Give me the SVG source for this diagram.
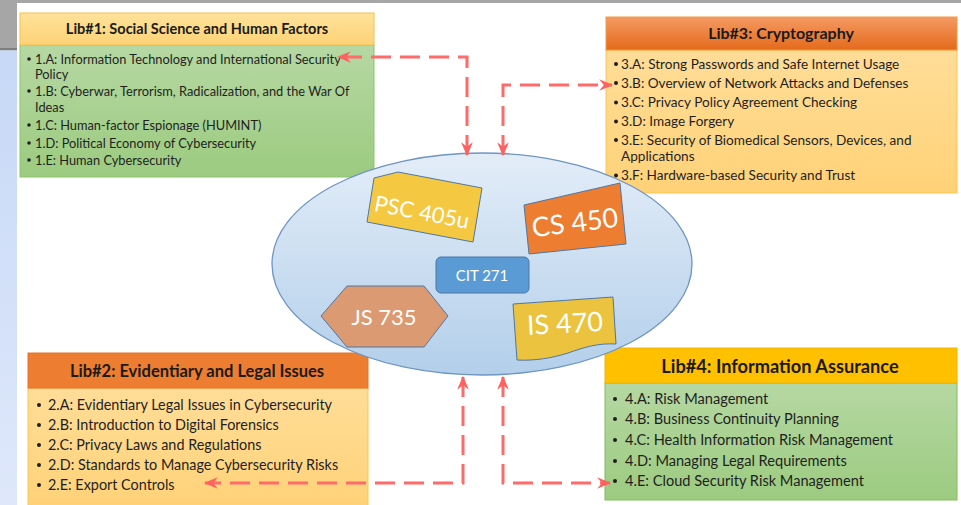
<svg xmlns="http://www.w3.org/2000/svg" width="961" height="505" viewBox="0 0 961 505">
<defs>
<style>
.t{font-family:Lato,"Liberation Sans",sans-serif;fill:#1f1f1f}
.h{font-family:Lato,"Liberation Sans",sans-serif;font-weight:bold;fill:#1a1a1a;text-anchor:middle}
.w{font-family:Lato,"Liberation Sans",sans-serif;fill:#ffffff;text-anchor:middle}
.b{fill:#1f1f1f}
.shp{stroke:#4f77a3;stroke-width:1}
.con{fill:none;stroke:#ff6b6b;stroke-width:3;stroke-dasharray:20 9;marker-start:url(#ah);marker-end:url(#ah)}
</style>
<linearGradient id="gGreen" x1="0" y1="0" x2="0" y2="1"><stop offset="0" stop-color="#b6d8a3"/><stop offset="1" stop-color="#9ccb80"/></linearGradient>
<linearGradient id="gPeach" x1="0" y1="0" x2="0" y2="1"><stop offset="0" stop-color="#ffdd98"/><stop offset="1" stop-color="#ffd278"/></linearGradient>
<linearGradient id="gHead1" x1="0" y1="0" x2="0" y2="1"><stop offset="0" stop-color="#ffe29a"/><stop offset="1" stop-color="#fdd277"/></linearGradient>
<linearGradient id="gOrange" x1="0" y1="0" x2="0" y2="1"><stop offset="0" stop-color="#f59a62"/><stop offset="1" stop-color="#e46a1c"/></linearGradient>
<linearGradient id="gEll" x1="0" y1="0" x2="0" y2="1"><stop offset="0" stop-color="#e3edf8"/><stop offset="1" stop-color="#b3cfea"/></linearGradient>
<linearGradient id="gSide" x1="0" y1="0" x2="0" y2="1"><stop offset="0" stop-color="#c6d8f6"/><stop offset="1" stop-color="#dfe8fb"/></linearGradient>
<marker id="ah" viewBox="0 0 12 10" refX="11" refY="5" markerWidth="14" markerHeight="12" markerUnits="userSpaceOnUse" orient="auto-start-reverse">
<path d="M0,0 L12,5 L0,10 L4,5 Z" fill="#ff6060"/>
</marker>
</defs>

<g id="background">
<rect x="0" y="0" width="961" height="505" fill="#ffffff"/>
<rect x="0" y="0" width="961" height="3" fill="#a6a6a6"/>
<rect x="0" y="0" width="17" height="48" fill="#a6a6a6"/>
<rect x="0" y="48" width="17" height="2.5" fill="#7f7f7f"/>
<rect x="0" y="50.5" width="17" height="454.5" fill="url(#gSide)"/>
</g>

<g id="lib1">
<rect x="20" y="45" width="354" height="132" fill="url(#gGreen)" stroke="#8cc36c" stroke-width="1"/>
<rect x="20" y="13" width="354" height="32" fill="url(#gHead1)" stroke="#f6c04e" stroke-width="1"/>
<text class="h" x="197" y="34" font-size="14.5">Lib#1: Social Science and Human Factors</text>
<g class="t" font-size="12.8">
<circle class="b" cx="29" cy="59" r="1.8"/><text x="35" y="63.5">1.A: Information Technology and International Security</text>
<text x="35" y="78.5">Policy</text>
<circle class="b" cx="29" cy="91" r="1.8"/><text x="35" y="95.5">1.B: Cyberwar, Terrorism, Radicalization, and the War Of</text>
<text x="35" y="111.5">Ideas</text>
<circle class="b" cx="29" cy="125" r="1.8"/><text x="35" y="129.5">1.C: Human-factor Espionage (HUMINT)</text>
<circle class="b" cx="29" cy="143" r="1.8"/><text x="35" y="147.5">1.D: Political Economy of Cybersecurity</text>
<circle class="b" cx="29" cy="160" r="1.8"/><text x="35" y="164.5">1.E: Human Cybersecurity</text>
</g>
</g>

<g id="lib3">
<rect x="606" y="50" width="351" height="143" fill="url(#gPeach)" stroke="#ffc54f" stroke-width="1"/>
<rect x="606" y="17" width="351" height="33" fill="url(#gOrange)" stroke="#f39a4a" stroke-width="1"/>
<text class="h" x="781" y="38.5" font-size="16">Lib#3: Cryptography</text>
<g class="t" font-size="13.6">
<circle class="b" cx="616" cy="64" r="2"/><text x="621" y="68.7">3.A: Strong Passwords and Safe Internet Usage</text>
<circle class="b" cx="616" cy="83" r="2"/><text x="621" y="87.7">3.B: Overview of Network Attacks and Defenses</text>
<circle class="b" cx="616" cy="102.5" r="2"/><text x="621" y="107.2">3.C: Privacy Policy Agreement Checking</text>
<circle class="b" cx="616" cy="121.5" r="2"/><text x="621" y="126.2">3.D: Image Forgery</text>
<circle class="b" cx="616" cy="140" r="2"/><text x="621" y="144.7">3.E: Security of Biomedical Sensors, Devices, and</text>
<text x="621" y="161.2">Applications</text>
<circle class="b" cx="616" cy="175.5" r="2"/><text x="621" y="180.2">3.F: Hardware-based Security and Trust</text>
</g>
</g>

<g id="lib2">
<rect x="28" y="388" width="340" height="120" fill="url(#gPeach)" stroke="#ffc54f" stroke-width="1"/>
<rect x="28" y="353" width="340" height="35" fill="#ed7d31" stroke="#e8732a" stroke-width="1"/>
<text class="h" x="197" y="377" font-size="16.5">Lib#2: Evidentiary and Legal Issues</text>
<g class="t" font-size="14.4">
<circle class="b" cx="39" cy="405" r="2"/><text x="48" y="410">2.A: Evidentiary Legal Issues in Cybersecurity</text>
<circle class="b" cx="39" cy="425" r="2"/><text x="48" y="430">2.B: Introduction to Digital Forensics</text>
<circle class="b" cx="39" cy="445" r="2"/><text x="48" y="450">2.C: Privacy Laws and Regulations</text>
<circle class="b" cx="39" cy="465" r="2"/><text x="48" y="470">2.D: Standards to Manage Cybersecurity Risks</text>
<circle class="b" cx="39" cy="485" r="2"/><text x="48" y="490">2.E: Export Controls</text>
</g>
</g>

<g id="lib4">
<rect x="605" y="383" width="352" height="117" fill="url(#gGreen)" stroke="#7fbe5c" stroke-width="1"/>
<rect x="605" y="348" width="352" height="35" fill="#ffc000" stroke="#f2b500" stroke-width="1"/>
<text class="h" x="780" y="372.5" font-size="18.2">Lib#4: Information Assurance</text>
<g class="t" font-size="14.6">
<circle class="b" cx="615" cy="399" r="2"/><text x="625" y="404">4.A: Risk Management</text>
<circle class="b" cx="615" cy="419" r="2"/><text x="625" y="424">4.B: Business Continuity Planning</text>
<circle class="b" cx="615" cy="440" r="2"/><text x="625" y="445">4.C: Health Information Risk Management</text>
<circle class="b" cx="615" cy="461" r="2"/><text x="625" y="466">4.D: Managing Legal Requirements</text>
<circle class="b" cx="615" cy="481" r="2"/><text x="625" y="486">4.E: Cloud Security Risk Management</text>
</g>
</g>

<g id="core">
<ellipse cx="482" cy="264" rx="210" ry="111" fill="url(#gEll)" stroke="#6f95c3" stroke-width="1.3"/>
</g>

<g id="psc405u">
<polygon class="shp" points="374,178 398,172 482,188 473,242 367,222" fill="#f5c842"/>
<text class="w" x="422" y="220" font-size="22" transform="rotate(10.8 422 212)">PSC 405u</text>
</g>

<g id="cs450">
<polygon class="shp" points="524,205 620,183 626,244 529,254" fill="#ed7d31"/>
<text class="w" x="575" y="232" font-size="27" transform="rotate(-7 575 223)">CS 450</text>
</g>

<g id="cit271">
<rect class="shp" x="436" y="257" width="93" height="36" rx="5" fill="#5b9bd5" stroke="#4a7ebb"/>
<text class="w" x="482" y="281" font-size="15">CIT 271</text>
</g>

<g id="js735">
<polygon class="shp" points="321,316 347,286 424,286 448,316 424,347 347,347" fill="#dc9a72" stroke="#8a6a55"/>
<text class="w" x="384" y="325" font-size="22">JS 735</text>
</g>

<g id="is470">
<path class="shp" d="M513,304 L613,297 L616,344 C598,343 585,347 568,353 C552,358 535,361 517,360 Z" fill="#ebc33e"/>
<text class="w" x="565" y="333" font-size="27" transform="rotate(-3 565 323)">IS 470</text>
</g>

<g id="connectors">
<path class="con" d="M467,155 V57 H338"/>
<path class="con" d="M503,155 V85 H612"/>
<path class="con" d="M463,377 V483 H205"/>
<path class="con" d="M503,377 V483 H610"/>
</g>
</svg>
